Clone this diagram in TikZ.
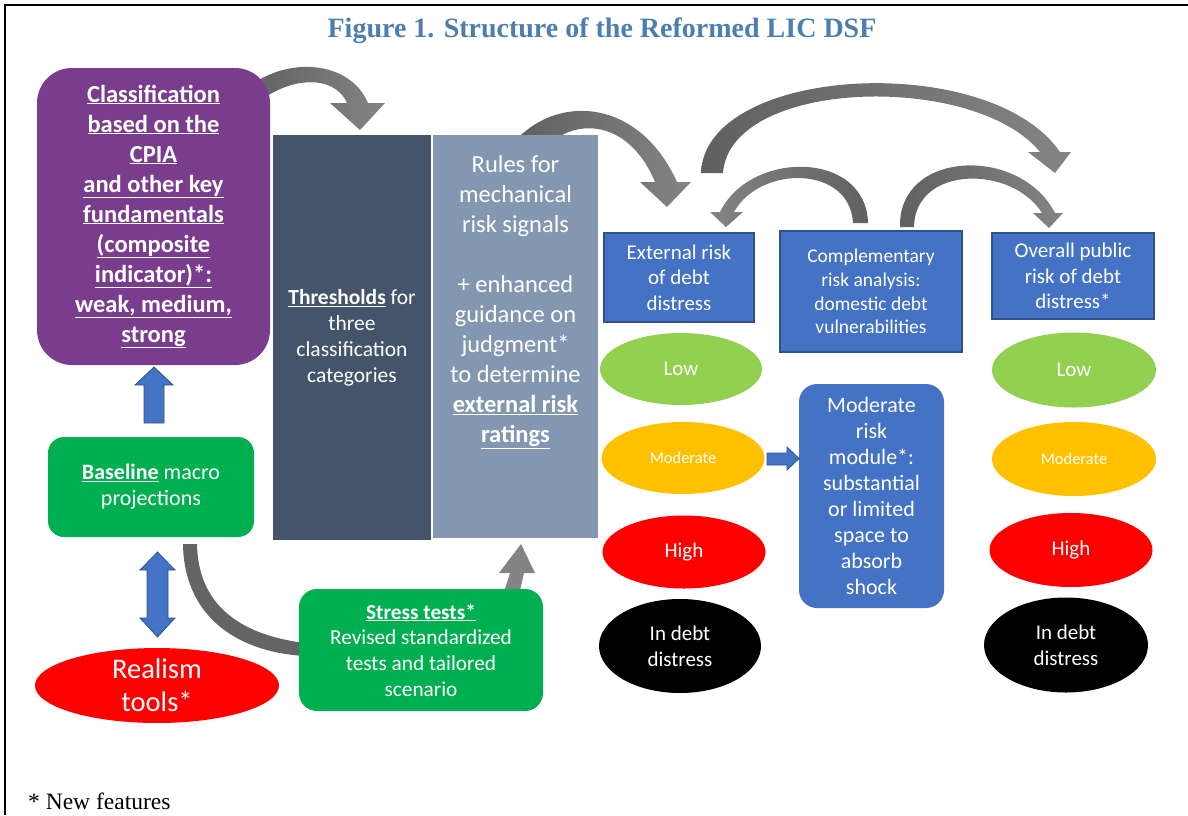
\documentclass[tikz,border=0pt]{standalone}
\usepackage{fontspec}
\setmainfont{Carlito}
\newfontfamily\timesf{Liberation Serif}
\newcommand\uln[1]{\underline{#1}}
\usetikzlibrary{shapes.geometric}
\definecolor{purp}{RGB}{122,61,142}
\definecolor{slatedark}{RGB}{68,84,106}
\definecolor{slatelight}{RGB}{132,151,176}
\definecolor{boxblue}{RGB}{68,114,196}
\definecolor{blueedge}{RGB}{47,82,143}
\definecolor{boxgreen}{RGB}{0,176,80}
\definecolor{lowgreen}{RGB}{146,208,80}
\definecolor{amber}{RGB}{255,192,0}
\definecolor{titleblue}{RGB}{76,127,175}
\definecolor{agrayd}{RGB}{96,96,96}
\definecolor{agrayl}{RGB}{132,132,132}
\definecolor{curvegray}{RGB}{100,100,100}
\tikzset{
  txt/.style={text=white, align=center, inner sep=0pt},
  bluebox/.style={txt, fill=boxblue, draw=blueedge, line width=1.2pt},
  greenbox/.style={txt, fill=boxgreen, rounded corners=16pt},
  oval/.style={ellipse, txt, minimum width=#1},
  blockarrow/.style={fill=boxblue, draw=blueedge, line width=0.8pt, line join=miter},
  grayarrow/.style={left color=agrayd, right color=agrayl},
  grayarrowrev/.style={left color=agrayl, right color=agrayd},
}
\begin{document}
\begin{tikzpicture}[x=1pt,y=-1pt]
\useasboundingbox (0,0) rectangle (1188,815);
% frame
\draw[line width=2.5pt] (5,815) -- (5,5) -- (1188,5);
% title
\node[text=titleblue, font=\timesf\bfseries\fontsize{28}{32}\selectfont] (title) at (602,31) {Figure 1. Structure of the Reformed LIC DSF};

% curved gray arrows (drawn first, tails hidden)
\path[grayarrow] (245,90) .. controls (285,55) and (350,60) .. (368,103) -- (385,103) -- (360,130) -- (330,103) -- (347,103) .. controls (335,75) and (290,75) .. (255,105) -- cycle;
\path[grayarrow] (516,140) .. controls (560,93) and (640,100) .. (677,182) -- (691,182) -- (667,207) -- (640,182) -- (655,182) .. controls (630,122) and (580,118) .. (552,142) -- cycle;
\path[grayarrow] (701,173) .. controls (705,65) and (990,50) .. (1060,152) -- (1071,152) -- (1055,173) -- (1028,152) -- (1040,152) .. controls (975,72) and (730,78) .. (723,173) -- cycle;
\path[grayarrowrev] (868,223) .. controls (866,150) and (750,150) .. (720,212) -- (710,212) -- (726,227) -- (743,212) -- (734,212) .. controls (760,165) and (850,165) .. (853,223) -- cycle;
\path[grayarrow] (900,227) .. controls (898,150) and (1020,145) .. (1055,213) -- (1063,213) -- (1049,228) -- (1033,213) -- (1042,213) .. controls (1012,165) and (915,165) .. (914,227) -- cycle;
% gray curve baseline -> stress tests
\fill[curvegray] (183,544) -- (197,544) .. controls (198,605) and (240,635) .. (305,643) -- (305,656) .. controls (235,652) and (184,615) .. (183,544) -- cycle;
% gray arrow stress tests -> rules
\fill[agrayl] (503,595) -- (510,573) -- (499,573) -- (521,544) -- (535,573) -- (524,573) -- (519,595) -- cycle;

% left column
\node[txt, fill=purp, rounded corners=35pt, minimum width=233pt, minimum height=297pt,
  font=\bfseries\fontsize{24.5}{30}\selectfont] (classif) at (153.5,216.5)
  {\uln{Classification}\\\uln{based on the}\\\uln{CPIA}\\\uln{and other key}\\\uln{fundamentals}\\\uln{(composite}\\\uln{indicator)*:}\\\uln{weak, medium,}\\\uln{strong}};
\node[greenbox, minimum width=206pt, minimum height=100pt, font=\fontsize{22}{26}\selectfont] (baseline) at (151,487)
  {\uln{\textbf{Baseline}} macro\\projections};
\node[oval=244pt, minimum height=73pt, fill=red, font=\fontsize{28.5}{33}\selectfont] (realism) at (157,685.5) {Realism\\tools*};
\node[greenbox, rounded corners=18pt, minimum width=244pt, minimum height=122pt, font=\fontsize{21.3}{25.7}\selectfont] (stress) at (421,650)
  {\uln{\textbf{Stress tests*}}\\Revised standardized\\tests and tailored\\scenario};
% blue block arrows left
\draw[blockarrow] (144,423) -- (144,385) -- (135,385) -- (154,367) -- (173,385) -- (164,385) -- (164,423) -- cycle;
\draw[blockarrow] (147,570) -- (140,570) -- (157.5,552) -- (175,570) -- (168,570) -- (168,618) -- (175,618) -- (157.5,637) -- (140,618) -- (147,618) -- cycle;

% middle columns
\node[txt, fill=slatedark, minimum width=158pt, minimum height=405pt, font=\fontsize{21.5}{26}\selectfont] (thresh) at (352,337.5)
  {\uln{\textbf{Thresholds}} for\\three\\classification\\categories};
\node[fill=slatelight, minimum width=165pt, minimum height=403pt, inner sep=0pt] (rules) at (515.5,336.5) {};
\node[txt, anchor=north, font=\fontsize{24.5}{30}\selectfont] (rulestext) at (515.5,155)
  {Rules for\\mechanical\\risk signals\\[30pt]+ enhanced\\guidance on\\judgment*\\to determine\\\uln{\textbf{external risk}}\\\uln{\textbf{ratings}}};

% right part: boxes
\node[bluebox, minimum width=150pt, minimum height=89pt, font=\fontsize{21}{25.5}\selectfont] (external) at (679,277.5) {External risk\\of debt\\distress};
\node[bluebox, minimum width=182pt, minimum height=121pt, font=\fontsize{19.5}{23.7}\selectfont] (compl) at (871,291.5) {Complementary\\risk analysis:\\domestic debt\\vulnerabilities};
\node[bluebox, minimum width=162pt, minimum height=86pt, font=\fontsize{21}{25.5}\selectfont] (overall) at (1073,276) {Overall public\\risk of debt\\distress*};
\node[txt, fill=boxblue, rounded corners=18pt, minimum width=145pt, minimum height=224pt, font=\fontsize{22}{25.9}\selectfont] (module) at (871.5,496)
  {Moderate\\risk\\module*:\\substantial\\or limited\\space to\\absorb\\shock};

% ovals left
\node[oval=162pt, minimum height=72pt, fill=lowgreen, font=\fontsize{21}{25}\selectfont] (llow) at (681,369) {Low};
\node[oval=163pt, minimum height=72pt, fill=amber, font=\fontsize{16.5}{20}\selectfont] (lmod) at (683,458) {Moderate};
\node[oval=163pt, minimum height=73pt, fill=red, font=\fontsize{21}{25}\selectfont] (lhigh) at (684,552) {High};
\node[oval=162pt, minimum height=94pt, fill=black, font=\fontsize{21}{26}\selectfont] (ldebt) at (680,646) {In debt\\distress};
% ovals right
\node[oval=164pt, minimum height=75pt, fill=lowgreen, font=\fontsize{21}{25}\selectfont] (rlow) at (1074,370) {Low};
\node[oval=164pt, minimum height=74pt, fill=amber, font=\fontsize{16.5}{20}\selectfont] (rmod) at (1074,459) {Moderate};
\node[oval=163pt, minimum height=74pt, fill=red, font=\fontsize{21}{25}\selectfont] (rhigh) at (1071,550) {High};
\node[oval=164pt, minimum height=95pt, fill=black, font=\fontsize{21}{26}\selectfont] (rdebt) at (1066,645) {In debt\\distress};

% small arrow moderate -> module
\draw[blockarrow] (767,453) -- (787,453) -- (787,447) -- (799,458.5) -- (787,470) -- (787,465) -- (767,465) -- cycle;

% footnote
\node[anchor=west, inner sep=0pt, font=\timesf\fontsize{23.5}{27}\selectfont] (note) at (28,801) {* New features};
\end{tikzpicture}
\end{document}
